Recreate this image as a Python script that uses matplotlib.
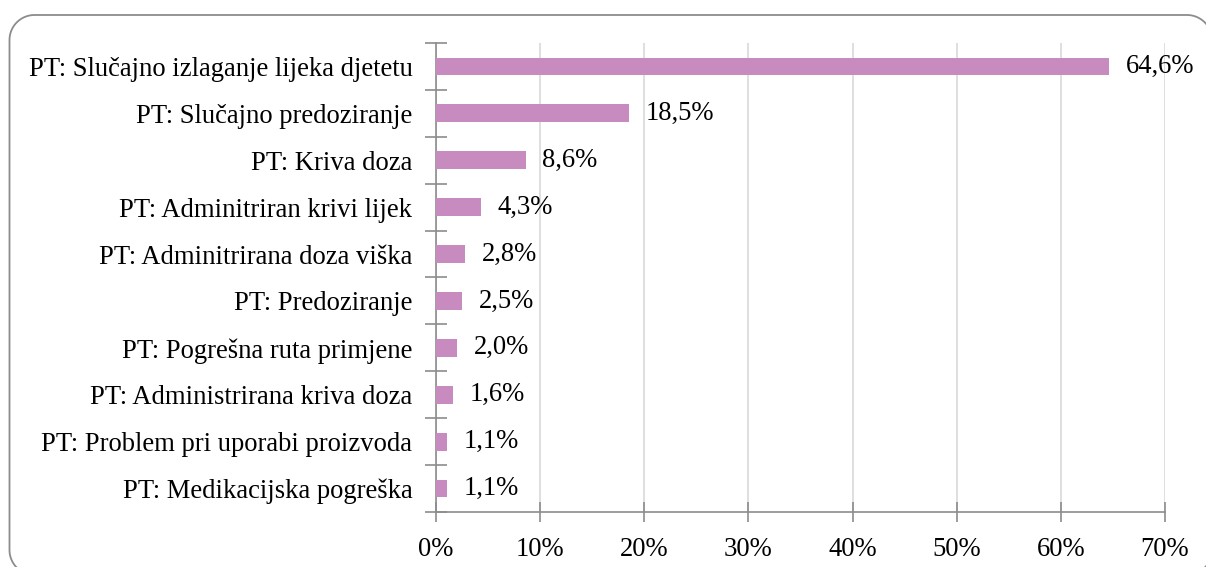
import matplotlib
matplotlib.use("Agg")
import matplotlib.pyplot as plt
import numpy as np
from matplotlib.lines import Line2D
from matplotlib.transforms import IdentityTransform
from matplotlib.ticker import FixedLocator, NullFormatter

categories = [
    "PT: Slučajno izlaganje lijeka djetetu",
    "PT: Slučajno predoziranje",
    "PT: Kriva doza",
    "PT: Adminitriran krivi lijek",
    "PT: Adminitrirana doza viška",
    "PT: Predoziranje",
    "PT: Pogrešna ruta primjene",
    "PT: Administrirana kriva doza",
    "PT: Problem pri uporabi proizvoda",
    "PT: Medikacijska pogreška",
]
values = [64.6, 18.5, 8.6, 4.3, 2.8, 2.5, 2.0, 1.6, 1.1, 1.1]
xticks = [0, 10, 20, 30, 40, 50, 60, 70]
xtick_labels = ["0%", "10%", "20%", "30%", "40%", "50%", "60%", "70%"]

plt.rcParams['font.family'] = ['Liberation Serif', 'DejaVu Serif']
W, H = 1206, 567
fig = plt.figure(figsize=(W / 100, H / 100), dpi=100)

# rounded frame drawn as a polyline in pixel coordinates (origin bottom-left)
x0, x1, y0, y1, r = 9.5, 1212.0, -8.0, H - 15.0, 25.0
xs, ys = [], []
for cx, cy, a0 in [(x1 - r, y1 - r, 0), (x0 + r, y1 - r, 90),
                   (x0 + r, y0 + r, 180), (x1 - r, y0 + r, 270)]:
    t = np.radians(np.linspace(a0, a0 + 90, 30))
    xs.extend(cx + r * np.cos(t))
    ys.extend(cy + r * np.sin(t))
xs.append(xs[0])
ys.append(ys[0])
fig.add_artist(Line2D(xs, ys, transform=IdentityTransform(),
                      color="#8c8c8c", linewidth=1.3, clip_on=False))

ax = fig.add_axes([436 / W, 1 - 512 / H, (1165 - 436) / W, (512 - 43) / H])

n = len(categories)
ypos = list(range(n))
ax.barh(ypos, values, height=0.38, color="#C78BC0", zorder=3)
ax.set_ylim(n - 0.5, -0.5)
ax.set_xlim(0, 70)

ax.set_yticks(ypos)
ax.set_yticklabels(categories, fontsize=19.2)
ax.tick_params(axis='y', which='major', length=0, pad=17)
ax.yaxis.set_minor_locator(FixedLocator([i - 0.5 for i in range(n + 1)]))
ax.yaxis.set_minor_formatter(NullFormatter())
ax.tick_params(axis='y', which='minor', direction='inout', length=16,
               color="#8c8c8c", width=1.2)

ax.set_xticks(xticks)
ax.set_xticklabels(xtick_labels, fontsize=19.2)
ax.tick_params(axis='x', which='major', direction='inout', length=14,
               color="#8c8c8c", width=1.2, pad=11)

ax.grid(axis='x', color="#d9d9d9", linewidth=1.2, zorder=0)
for s in ['top', 'right']:
    ax.spines[s].set_visible(False)
for s in ['left', 'bottom']:
    ax.spines[s].set_color("#8c8c8c")
    ax.spines[s].set_linewidth(1.2)

for y, v in zip(ypos, values):
    ax.annotate(f"{v:.1f}%".replace(".", ","), xy=(v, y), xytext=(12, 0),
                textcoords="offset points", va="center", ha="left",
                fontsize=19.2, zorder=4)

fig.savefig("out.png", dpi=100)
